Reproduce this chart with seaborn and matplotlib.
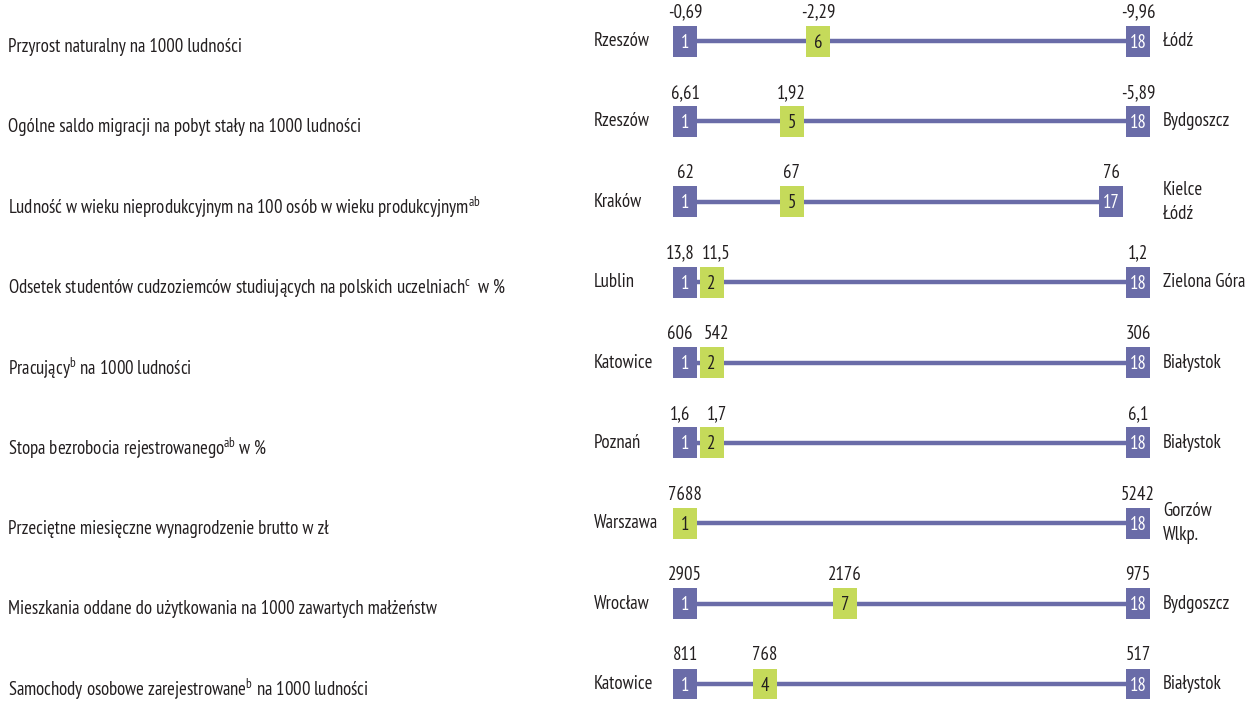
import numpy as np
import pandas as pd
import matplotlib
matplotlib.use('Agg')
import matplotlib.pyplot as plt
from matplotlib import font_manager
import seaborn as sns

# data
indicators = [
    'Przyrost naturalny na 1000 ludności',
    'Ogólne saldo migracji na pobyt stały na 1000 ludności',
    'Ludność w wieku nieprodukcyjnym na 100 osób w wieku produkcyjnym$^{\\mathrm{ab}}$',
    'Odsetek studentów cudzoziemców studiujących na polskich uczelniach$^{\\mathrm{c}}$  w %',
    'Pracujący$^{\\mathrm{b}}$ na 1000 ludności',
    'Stopa bezrobocia rejestrowanego$^{\\mathrm{ab}}$ w %',
    'Przeciętne miesięczne wynagrodzenie brutto w zł',
    'Mieszkania oddane do użytkowania na 1000 zawartych małżeństw',
    'Samochody osobowe zarejestrowane$^{\\mathrm{b}}$ na 1000 ludności',
]
best_city = ['Rzeszów', 'Rzeszów', 'Kraków', 'Lublin', 'Katowice', 'Poznań', 'Warszawa', 'Wrocław', 'Katowice']
worst_city = ['Łódź', 'Bydgoszcz', 'Kielce\nŁódź', 'Zielona Góra', 'Białystok', 'Białystok', 'Gorzów\nWlkp.', 'Bydgoszcz', 'Białystok']
best_val = [-0.69, 6.61, 62, 13.8, 606, 1.6, 7688, 2905, 811]
city_val = [-2.29, 1.92, 67, 11.5, 542, 1.7, 7688, 2176, 768]
worst_val = [-9.96, -5.89, 76, 1.2, 306, 6.1, 5242, 975, 517]
decimals = [2, 2, 0, 1, 0, 1, 0, 0, 0]
city_rank = [6, 5, 5, 2, 2, 2, 1, 7, 4]
worst_rank = [18, 18, 17, 18, 18, 18, 18, 18, 18]

purple = '#6a6ca8'
green = '#c5da5a'
dark = '#231f20'

sns.set_theme(style='white')
names = {f.name for f in font_manager.fontManager.ttflist}
font = 'PT Sans Narrow' if 'PT Sans Narrow' in names else 'DejaVu Sans'
plt.rcParams['font.family'] = [font, 'DejaVu Sans']
plt.rcParams['mathtext.fontset'] = 'custom'
plt.rcParams['mathtext.rm'] = font
plt.rcParams['mathtext.it'] = font
fs = 13.5

def fmt(v, d):
    return f'{v:.{d}f}'.replace('.', ',')

n = len(indicators)
rows = np.arange(n)

fig = plt.figure(figsize=(12.47, 7.08), dpi=100)
ax = fig.add_axes([0, 0, 1, 1])

# rank 1 -> 685px, rank 18 -> 1138px ; row 0 -> 41px, row 8 -> 684px
step = (1138 - 685) / 17
ax.set_xlim(1 - 685 / step, 18 + (1247 - 1138) / step)
rstep = (684 - 41) / 8
ax.set_ylim(8 + (708 - 684) / rstep, -41 / rstep)

lines = pd.DataFrame({
    'row': np.repeat(rows, 2),
    'rank': np.ravel([[1, w] for w in worst_rank]),
})
sns.lineplot(data=lines, x='rank', y='row', units='row', estimator=None, sort=False,
             color=purple, linewidth=3.2, ax=ax, legend=False)

bw = 24 / step
bh = 31 / rstep
gap = 4 / rstep
px = 1 / step
for i in rows:
    # nudge the value labels apart when rank 2 sits next to rank 1
    shift = 5 * px if city_rank[i] == 2 else 0
    c1 = green if city_rank[i] == 1 else purple
    ax.bar(1, bh, bottom=i - bh / 2, width=bw, color=c1, zorder=3, linewidth=0)
    ax.bar(worst_rank[i], bh, bottom=i - bh / 2, width=bw, color=purple, zorder=3, linewidth=0)
    ax.text(1, i + 0.02, '1', ha='center', va='center', fontsize=fs,
            color=dark if city_rank[i] == 1 else 'white', zorder=4)
    ax.text(worst_rank[i], i + 0.02, str(worst_rank[i]), ha='center', va='center',
            fontsize=fs, color='white', zorder=4)
    ax.text(1 - shift, i - bh / 2 - gap, fmt(best_val[i], decimals[i]), ha='center',
            va='bottom', fontsize=fs, color=dark)
    ax.text(worst_rank[i], i - bh / 2 - gap, fmt(worst_val[i], decimals[i]), ha='center',
            va='bottom', fontsize=fs, color=dark)
    if city_rank[i] != 1:
        r = city_rank[i]
        ax.bar(r, bh, bottom=i - bh / 2, width=bw, color=green, zorder=3, linewidth=0)
        ax.text(r, i + 0.02, str(r), ha='center', va='center', fontsize=fs,
                color=dark, zorder=4)
        ax.text(r + shift, i - bh / 2 - gap, fmt(city_val[i], decimals[i]), ha='center',
                va='bottom', fontsize=fs, color=dark)
    # city names
    ax.text(1 - 91 * px, i, best_city[i], ha='left', va='center', fontsize=fs,
            color=dark)
    ax.text(18 + 25 * px, i, worst_city[i], ha='left', va='center', fontsize=fs,
            color=dark, linespacing=1.4)
    # indicator label
    ax.text(8 / 1247, i + 0.07, indicators[i], transform=ax.get_yaxis_transform(),
            ha='left', va='center', fontsize=fs, color=dark)

ax.axis('off')
fig.savefig('out.png', dpi=100)
